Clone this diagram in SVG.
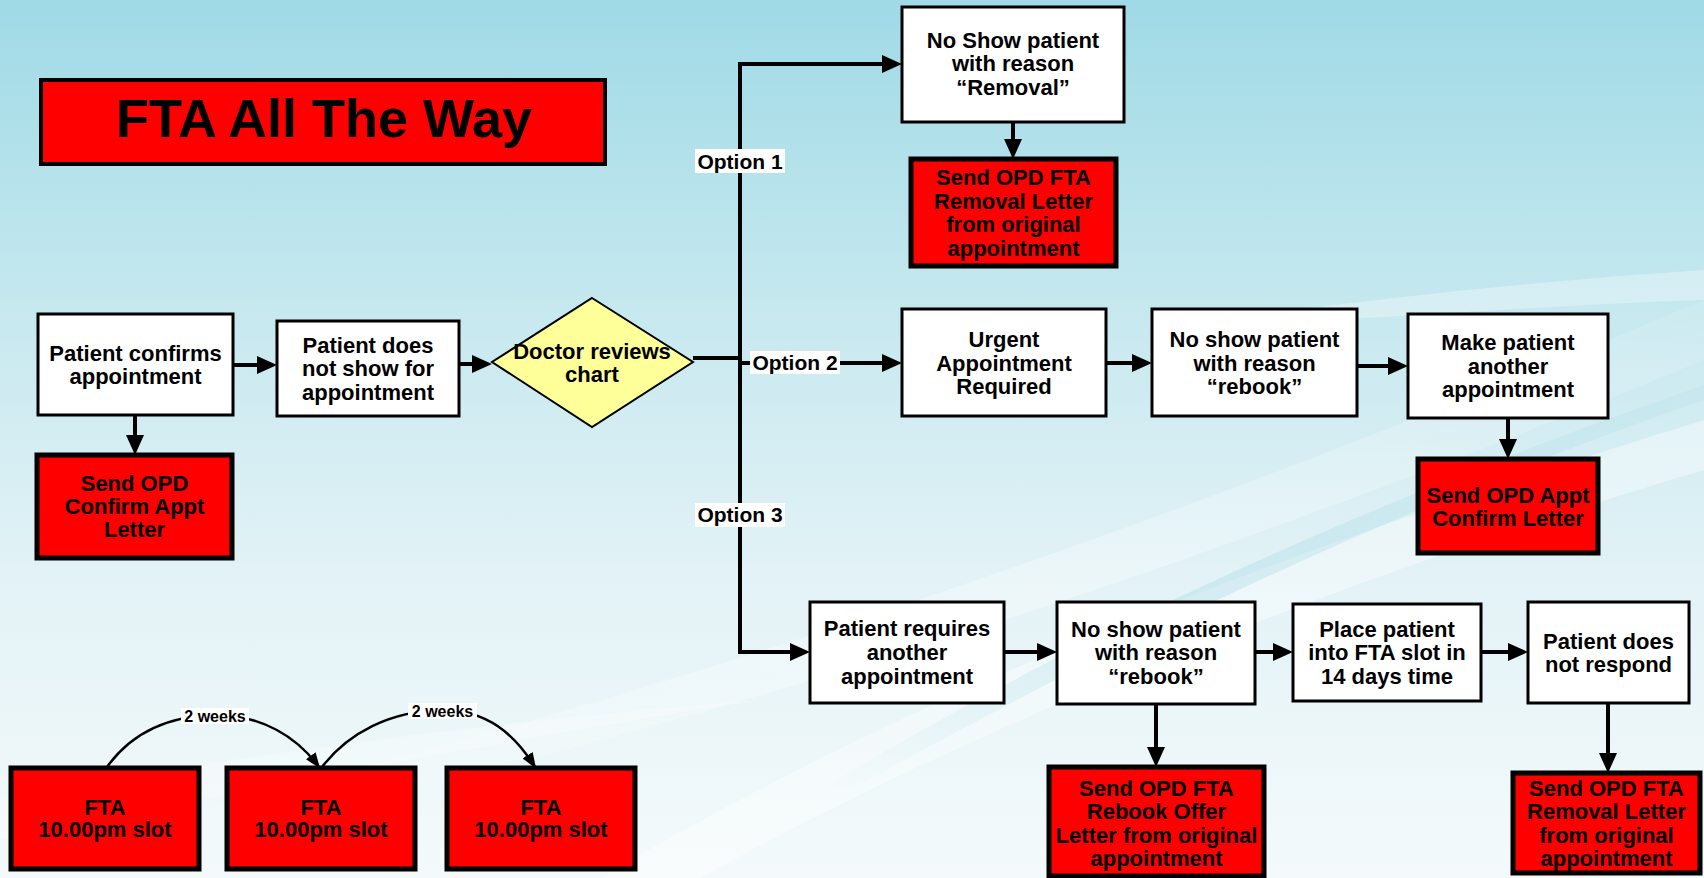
<svg xmlns="http://www.w3.org/2000/svg" width="1704" height="878" viewBox="0 0 1704 878">
<defs>
<linearGradient id="bg" x1="0" y1="0" x2="0" y2="1">
<stop offset="0" stop-color="#9fdae6"/>
<stop offset="0.35" stop-color="#c6e8ef"/>
<stop offset="0.65" stop-color="#e2f2f6"/>
<stop offset="1" stop-color="#f4fafb"/>
</linearGradient>
<linearGradient id="sw" x1="0" y1="1" x2="1" y2="0">
<stop offset="0" stop-color="#ffffff" stop-opacity="0"/>
<stop offset="0.5" stop-color="#ffffff" stop-opacity="0.7"/>
<stop offset="1" stop-color="#ffffff" stop-opacity="0.2"/>
</linearGradient>
<linearGradient id="st" x1="0" y1="1" x2="1" y2="0">
<stop offset="0" stop-color="#9ed6e2" stop-opacity="0"/>
<stop offset="0.4" stop-color="#9ed6e2" stop-opacity="0.35"/>
<stop offset="1" stop-color="#9ed6e2" stop-opacity="0.15"/>
</linearGradient>
<marker id="arr" markerUnits="userSpaceOnUse" markerWidth="20" markerHeight="18" viewBox="0 0 20 18" refX="8" refY="9" orient="auto">
<path d="M0,0 L20,9 L0,18 z" fill="#000"/>
</marker>
<marker id="arrs" markerUnits="userSpaceOnUse" markerWidth="16" markerHeight="12" viewBox="0 0 16 12" refX="14" refY="6" orient="auto">
<path d="M0,0 L16,6 L0,12 z" fill="#000"/>
</marker>
</defs>
<style>
.t{font-family:"Liberation Sans",Arial,sans-serif;font-weight:bold;font-size:22px;fill:#000;text-anchor:middle}
.opt{font-family:"Liberation Sans",Arial,sans-serif;font-weight:bold;font-size:21px;fill:#000;text-anchor:middle}
.wk{font-family:"Liberation Sans",Arial,sans-serif;font-weight:bold;font-size:16px;fill:#000;text-anchor:middle}
.wb{fill:#fff;stroke:#000;stroke-width:3}
.rb{fill:#ff0000;stroke:#000;stroke-width:5}
.ln{fill:none;stroke:#000;stroke-width:4}
.cv{fill:none;stroke:#000;stroke-width:2.5}
.lb{fill:#fff}
</style>
<rect x="0" y="0" width="1704" height="878" fill="url(#bg)"/>
<g id="background">
<path d="M0,860 C400,760 900,640 1704,300 L1704,360 C1000,650 500,780 0,878 z" fill="url(#sw)" opacity="0.5"/>
<path d="M600,878 C900,700 1250,560 1704,420 L1704,470 C1300,590 950,740 700,878 z" fill="#ffffff" opacity="0.4"/>
<path d="M820,790 C1100,620 1400,490 1704,385 L1704,400 C1400,505 1120,640 850,790 z" fill="url(#st)"/>
<path d="M1150,330 C1350,300 1550,280 1704,270 L1704,300 C1550,305 1360,320 1150,330 z" fill="#ffffff" opacity="0.3"/>
<path d="M0,800 C200,760 500,720 760,700 C500,740 250,790 0,840 z" fill="#ffffff" opacity="0.3"/>
</g>
<g id="connectors">
<line class="ln" x1="233" y1="365" x2="265" y2="365" marker-end="url(#arr)"/>
<line class="ln" x1="135" y1="415" x2="135" y2="443" marker-end="url(#arr)"/>
<line class="ln" x1="459" y1="364" x2="480" y2="364" marker-end="url(#arr)"/>
<polyline class="ln" points="693,358 740,358"/>
<polyline class="ln" points="890,64 740,64 740,652 798,652" marker-end="url(#arr)"/>
<line class="ln" x1="740" y1="64" x2="890" y2="64" marker-end="url(#arr)"/>
<line class="ln" x1="740" y1="363" x2="890" y2="363" marker-end="url(#arr)"/>
<line class="ln" x1="1013" y1="122" x2="1013" y2="147" marker-end="url(#arr)"/>
<line class="ln" x1="1106" y1="363" x2="1140" y2="363" marker-end="url(#arr)"/>
<line class="ln" x1="1357" y1="366" x2="1396" y2="366" marker-end="url(#arr)"/>
<line class="ln" x1="1508" y1="418" x2="1508" y2="447" marker-end="url(#arr)"/>
<line class="ln" x1="1004" y1="652" x2="1045" y2="652" marker-end="url(#arr)"/>
<line class="ln" x1="1255" y1="652" x2="1281" y2="652" marker-end="url(#arr)"/>
<line class="ln" x1="1481" y1="652" x2="1516" y2="652" marker-end="url(#arr)"/>
<line class="ln" x1="1156" y1="704" x2="1156" y2="755" marker-end="url(#arr)"/>
<line class="ln" x1="1608" y1="703" x2="1608" y2="761" marker-end="url(#arr)"/>
<path class="cv" d="M107,767 C130,735 165,716 215,715 C262,715 297,737 319,767" marker-end="url(#arrs)"/>
<path class="cv" d="M322,767 C348,733 390,711 442,710 C488,710 515,735 535,767" marker-end="url(#arrs)"/>
<rect class="lb" x="695" y="149" width="90" height="24"/>
<text class="opt" x="740" y="169">Option 1</text>
<rect class="lb" x="750" y="351" width="90" height="23"/>
<text class="opt" x="795" y="370">Option 2</text>
<rect class="lb" x="695" y="503" width="90" height="24"/>
<text class="opt" x="740" y="522">Option 3</text>
<rect class="lb" x="181" y="708" width="68" height="16"/>
<text class="wk" x="215" y="722">2 weeks</text>
<rect class="lb" x="408" y="703" width="69" height="16"/>
<text class="wk" x="442.5" y="717">2 weeks</text>
</g>
<g id="title">
<rect x="41" y="80" width="564" height="84" fill="#ff0000" stroke="#000" stroke-width="4"/>
<text class="t" x="324" y="137" style="font-size:54px">FTA All The Way</text>
</g>
<g id="n1">
<rect class="wb" x="38" y="314" width="195" height="101"/>
<text class="t" x="135.5" y="361">Patient confirms</text>
<text class="t" x="135.5" y="384">appointment</text>
</g>
<g id="n2">
<rect class="wb" x="277" y="321" width="182" height="95"/>
<text class="t" x="368" y="353">Patient does</text>
<text class="t" x="368" y="376">not show for</text>
<text class="t" x="368" y="400">appointment</text>
</g>
<g id="n_doctor">
<polygon points="592,298 693,362 592,427 492,362" fill="#ffff99" stroke="#000" stroke-width="2"/>
<text class="t" x="592" y="359">Doctor reviews</text>
<text class="t" x="592" y="382">chart</text>
</g>
<g id="n3">
<rect class="rb" x="37" y="455" width="195" height="103"/>
<text class="t" x="134.5" y="491">Send OPD</text>
<text class="t" x="134.5" y="514">Confirm Appt</text>
<text class="t" x="134.5" y="537">Letter</text>
</g>
<g id="n4">
<rect class="wb" x="902" y="7" width="222" height="115"/>
<text class="t" x="1013" y="48">No Show patient</text>
<text class="t" x="1013" y="71">with reason</text>
<text class="t" x="1013" y="95">“Removal”</text>
</g>
<g id="n5">
<rect class="rb" x="911" y="159" width="205" height="107"/>
<text class="t" x="1013.5" y="185">Send OPD FTA</text>
<text class="t" x="1013.5" y="208.5">Removal Letter</text>
<text class="t" x="1013.5" y="232">from original</text>
<text class="t" x="1013.5" y="255.5">appointment</text>
</g>
<g id="n6">
<rect class="wb" x="902" y="309" width="204" height="107"/>
<text class="t" x="1004" y="347">Urgent</text>
<text class="t" x="1004" y="371">Appointment</text>
<text class="t" x="1004" y="394">Required</text>
</g>
<g id="n7">
<rect class="wb" x="1152" y="309" width="205" height="107"/>
<text class="t" x="1254.5" y="347">No show patient</text>
<text class="t" x="1254.5" y="371">with reason</text>
<text class="t" x="1254.5" y="394">“rebook”</text>
</g>
<g id="n8">
<rect class="wb" x="1408" y="314" width="200" height="104"/>
<text class="t" x="1508" y="350">Make patient</text>
<text class="t" x="1508" y="374">another</text>
<text class="t" x="1508" y="397">appointment</text>
</g>
<g id="n9">
<rect class="rb" x="1418" y="459" width="180" height="94"/>
<text class="t" x="1508" y="503">Send OPD Appt</text>
<text class="t" x="1508" y="526">Confirm Letter</text>
</g>
<g id="n10">
<rect class="wb" x="810" y="602" width="194" height="101"/>
<text class="t" x="907" y="636">Patient requires</text>
<text class="t" x="907" y="660">another</text>
<text class="t" x="907" y="684">appointment</text>
</g>
<g id="n11">
<rect class="wb" x="1057" y="602" width="198" height="102"/>
<text class="t" x="1156" y="637">No show patient</text>
<text class="t" x="1156" y="660">with reason</text>
<text class="t" x="1156" y="684">“rebook”</text>
</g>
<g id="n12">
<rect class="wb" x="1293" y="604" width="188" height="97"/>
<text class="t" x="1387" y="637">Place patient</text>
<text class="t" x="1387" y="660">into FTA slot in</text>
<text class="t" x="1387" y="684">14 days time</text>
</g>
<g id="n13">
<rect class="wb" x="1528" y="602" width="161" height="101"/>
<text class="t" x="1608.5" y="649">Patient does</text>
<text class="t" x="1608.5" y="672">not respond</text>
</g>
<g id="n14">
<rect class="rb" x="1049" y="767" width="215" height="109"/>
<text class="t" x="1156.5" y="796">Send OPD FTA</text>
<text class="t" x="1156.5" y="819">Rebook Offer</text>
<text class="t" x="1156.5" y="843">Letter from original</text>
<text class="t" x="1156.5" y="866">appointment</text>
</g>
<g id="n15">
<rect class="rb" x="1513" y="773" width="187" height="100"/>
<text class="t" x="1606.5" y="796">Send OPD FTA</text>
<text class="t" x="1606.5" y="819">Removal Letter</text>
<text class="t" x="1606.5" y="843">from original</text>
<text class="t" x="1606.5" y="866">appointment</text>
</g>
<g id="n16">
<rect class="rb" x="11" y="768" width="188" height="101"/>
<text class="t" x="105" y="815">FTA</text>
<text class="t" x="105" y="837">10.00pm slot</text>
</g>
<g id="n17">
<rect class="rb" x="227" y="768" width="188" height="101"/>
<text class="t" x="321" y="815">FTA</text>
<text class="t" x="321" y="837">10.00pm slot</text>
</g>
<g id="n18">
<rect class="rb" x="447" y="768" width="188" height="101"/>
<text class="t" x="541" y="815">FTA</text>
<text class="t" x="541" y="837">10.00pm slot</text>
</g>
</svg>
